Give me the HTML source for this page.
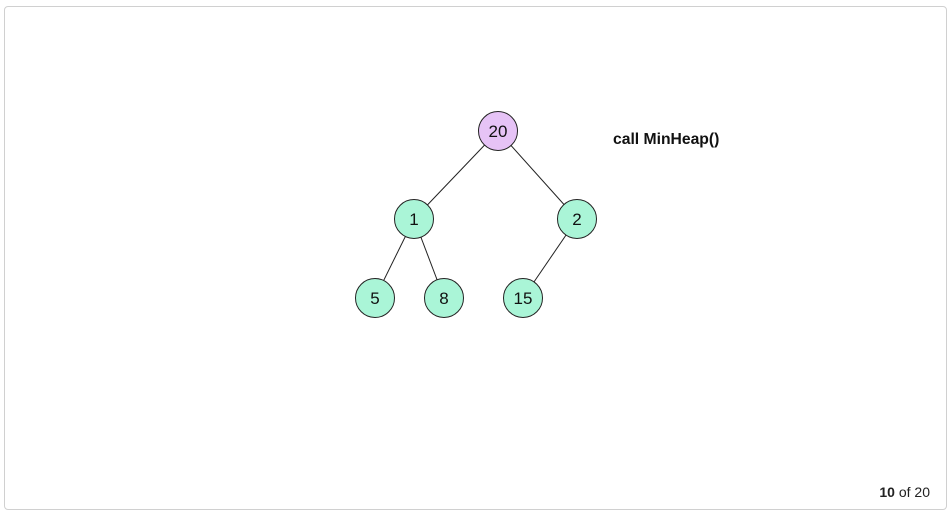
<!DOCTYPE html>
<html><head><style>
html,body{margin:0;padding:0;background:#fff;width:952px;height:514px;overflow:hidden}
.frame{position:absolute;left:4px;top:6px;width:943px;height:504px;border:1px solid #d0d0d0;border-radius:4px;box-sizing:border-box}
.pg{position:absolute;right:22px;top:484px;font:14px "Liberation Sans",sans-serif;color:#222}
</style></head><body>
<div class="frame"></div>
<svg width="952" height="514" style="position:absolute;left:0;top:0" font-family="Liberation Sans, sans-serif">
<g stroke="#222" stroke-width="1">
<line x1="498" y1="131" x2="414" y2="219"/>
<line x1="498" y1="131" x2="577" y2="219"/>
<line x1="414" y1="219" x2="375" y2="298"/>
<line x1="414" y1="219" x2="444" y2="298"/>
<line x1="577" y1="219" x2="523" y2="298"/>
</g>
<g stroke="#222" stroke-width="1">
<circle cx="498" cy="131" r="19.5" fill="#e6c3f6"/>
<circle cx="414" cy="219" r="19.5" fill="#aaf5d7"/>
<circle cx="577" cy="219" r="19.5" fill="#aaf5d7"/>
<circle cx="375" cy="298" r="19.5" fill="#aaf5d7"/>
<circle cx="444" cy="298" r="19.5" fill="#aaf5d7"/>
<circle cx="523" cy="298" r="19.5" fill="#aaf5d7"/>
</g>
<g font-size="17" text-anchor="middle" fill="#111">
<text x="498" y="137">20</text>
<text x="414" y="225">1</text>
<text x="577" y="225">2</text>
<text x="375" y="304">5</text>
<text x="444" y="304">8</text>
<text x="523" y="304">15</text>
</g>
<text x="613" y="144" font-size="15.7" font-weight="bold" fill="#111">call MinHeap()</text>
</svg>
<div class="pg"><b>10</b> of 20</div>
</body></html>
